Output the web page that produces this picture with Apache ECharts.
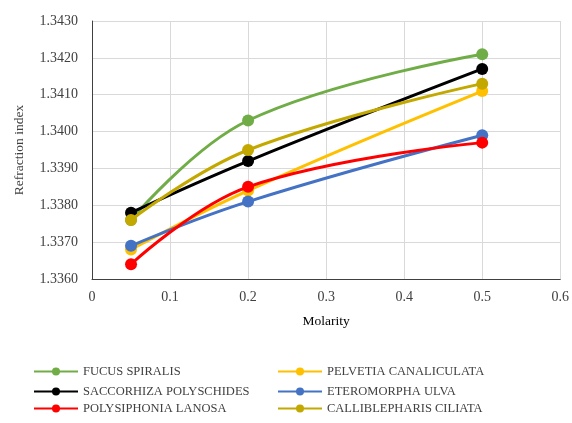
<!DOCTYPE html>
<html>
<head>
<meta charset="utf-8">
<script src="https://cdn.jsdelivr.net/npm/echarts@6/dist/echarts.min.js"></script>
<style>
  html, body { margin: 0; padding: 0; background: #fff; }
  #chart { width: 572px; height: 423px; }
</style>
</head>
<body>
<div id="chart"></div>
<script>
// Molarity values where refraction index was measured
const molarity = [0.05, 0.2, 0.5];

// Refraction index per species
const fucusSpiralis = [1.3376, 1.3403, 1.3421];
const pelvetiaCanaliculata = [1.3368, 1.3384, 1.3411];
const saccorhizaPolyschides = [1.3378, 1.3392, 1.3417];
const eteromorphaUlva = [1.3369, 1.3381, 1.3399];
const polysiphoniaLanosa = [1.3364, 1.3385, 1.3397];
const callibleparisCiliata = [1.3376, 1.3395, 1.3413];

const seriesNames = [
  'FUCUS SPIRALIS',
  'PELVETIA CANALICULATA',
  'SACCORHIZA POLYSCHIDES',
  'ETEROMORPHA ULVA',
  'POLYSIPHONIA LANOSA',
  'CALLIBLEPHARIS CILIATA'
];
const seriesValues = [
  fucusSpiralis, pelvetiaCanaliculata, saccorhizaPolyschides,
  eteromorphaUlva, polysiphoniaLanosa, callibleparisCiliata
];
const seriesColors = ['#70AD47', '#FFC000', '#000000', '#4472C4', '#FF0000', '#C3A800'];

const font = '"Liberation Serif", "Times New Roman", serif';

const chart = echarts.init(document.getElementById('chart'), null, { renderer: 'canvas' });

// Two-column legend, filled row by row: one legend entry per slot
const legendCols = [33, 277];
const legendRows = [365, 385, 402];
const legends = seriesNames.map((name, i) => ({
  data: [name],
  left: legendCols[i % 2],
  top: legendRows[Math.floor(i / 2)],
  padding: 0,
  itemWidth: 44,
  itemHeight: 10,
  textStyle: { fontFamily: font, fontSize: 12.5, color: '#404040' }
}));

chart.setOption({
  animation: false,
  backgroundColor: '#ffffff',
  grid: { left: 92, right: 10, top: 21, bottom: 144, containLabel: false },
  legend: legends,
  xAxis: {
    type: 'value',
    min: 0,
    max: 0.6,
    interval: 0.1,
    name: 'Molarity',
    nameLocation: 'middle',
    nameGap: 35,
    nameTextStyle: { fontFamily: font, fontSize: 13.5, color: '#000' },
    axisLine: { show: true, lineStyle: { color: '#404040', width: 1 } },
    axisTick: { show: false },
    axisLabel: {
      margin: 11,
      fontFamily: font, fontSize: 14, color: '#404040',
      formatter: v => (v === 0 ? '0' : String(Math.round(v * 10) / 10))
    },
    splitLine: { show: true, lineStyle: { color: '#D9D9D9', width: 1 } }
  },
  yAxis: {
    type: 'value',
    min: 1.336,
    max: 1.343,
    interval: 0.001,
    name: 'Refraction index',
    nameLocation: 'middle',
    nameGap: 66,
    nameTextStyle: { fontFamily: font, fontSize: 13.5, color: '#404040' },
    axisLine: { show: true, lineStyle: { color: '#404040', width: 1 } },
    axisTick: { show: false },
    axisLabel: {
      margin: 14,
      fontFamily: font, fontSize: 14, color: '#404040',
      formatter: v => v.toFixed(4)
    },
    splitLine: { show: true, lineStyle: { color: '#D9D9D9', width: 1 } }
  },
  series: seriesNames.map((name, i) => ({
    name: name,
    type: 'line',
    smooth: 0.4,
    data: molarity.map((m, j) => [m, seriesValues[i][j]]),
    symbol: 'circle',
    symbolSize: 12,
    lineStyle: { color: seriesColors[i], width: 3 },
    itemStyle: { color: seriesColors[i] },
    z: 2 + i
  }))
});
</script>
</body>
</html>
